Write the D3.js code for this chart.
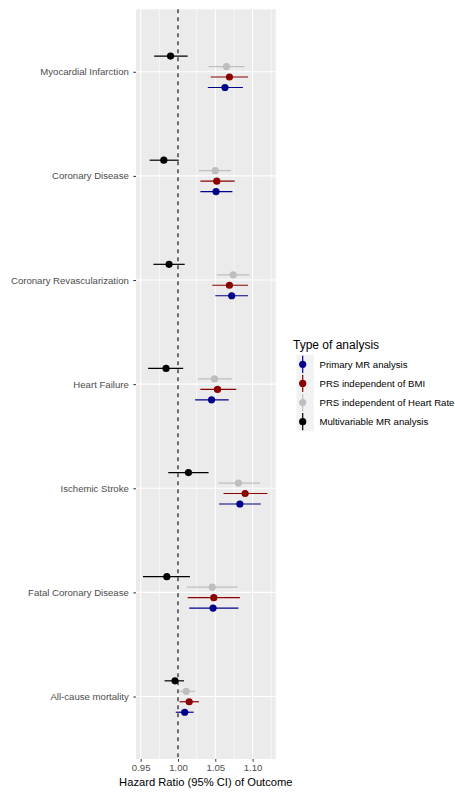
<!DOCTYPE html>
<html>
<head>
<meta charset="utf-8">
<script src="https://cdn.jsdelivr.net/npm/d3@7"></script>
<style>
  body { margin: 0; background: #fff; }
  text { font-family: "Liberation Sans", Arial, sans-serif; }
</style>
</head>
<body>
<div id="chart"></div>
<script>
// outcome categories, top to bottom
var outcomes = ["Myocardial Infarction", "Coronary Disease", "Coronary Revascularization",
  "Heart Failure", "Ischemic Stroke", "Fatal Coronary Disease", "All-cause mortality"];

// analyses, in dodge order (top to bottom inside a category)
var analyses = ["Multivariable MR analysis", "PRS independent of Heart Rate",
  "PRS independent of BMI", "Primary MR analysis"];
var colors = ["#000000", "#BEBEBE", "#8B0000", "#00008B"];

// legend order
var legendOrder = ["Primary MR analysis", "PRS independent of BMI",
  "PRS independent of Heart Rate", "Multivariable MR analysis"];

// hazard ratios [est, lower, upper] per outcome, one array per analysis
var multivariable = [[0.990, 0.968, 1.013], [0.981, 0.962, 1.001], [0.988, 0.967, 1.009],
  [0.984, 0.960, 1.007], [1.014, 0.987, 1.041], [0.985, 0.953, 1.016], [0.996, 0.982, 1.008]];
var prsHeartRate = [[1.065, 1.041, 1.089], [1.050, 1.028, 1.071], [1.074, 1.052, 1.096],
  [1.049, 1.027, 1.072], [1.081, 1.054, 1.110], [1.046, 1.012, 1.080], [1.011, 1.002, 1.023]];
var prsBmi = [[1.069, 1.044, 1.094], [1.052, 1.030, 1.076], [1.069, 1.046, 1.094],
  [1.053, 1.030, 1.078], [1.090, 1.061, 1.120], [1.048, 1.013, 1.083], [1.015, 1.002, 1.028]];
var primary = [[1.063, 1.040, 1.087], [1.051, 1.030, 1.073], [1.072, 1.050, 1.094],
  [1.045, 1.023, 1.068], [1.083, 1.055, 1.111], [1.047, 1.015, 1.081], [1.009, 0.997, 1.021]];

var xTicks = [0.95, 1.00, 1.05, 1.10];
var xMinor = [0.925, 0.975, 1.025, 1.075, 1.125];

var W = 455, H = 796;
var panel = { l: 136, r: 275.7, t: 9.3, b: 759 };

var seriesValues = [multivariable, prsHeartRate, prsBmi, primary];
var rows = [];
analyses.forEach(function (a, i) {
  seriesValues[i].forEach(function (v, j) {
    rows.push({ outcome: outcomes[j], analysis: a, est: v[0], lo: v[1], hi: v[2], color: colors[i] });
  });
});

var svg = d3.select("#chart").append("svg").attr("width", W).attr("height", H);

var x = d3.scaleLinear().domain([0.9437, 1.131]).range([panel.l, panel.r]);
var y = d3.scalePoint().domain(outcomes).range([panel.t, panel.b]).padding(0.6);
var dodge = d3.scalePoint().domain(analyses).range([-15.7, 15.7]);

svg.append("rect")
  .attr("x", panel.l).attr("y", panel.t)
  .attr("width", panel.r - panel.l).attr("height", panel.b - panel.t)
  .attr("fill", "#EBEBEB");

var grid = svg.append("g");
grid.selectAll(".minor").data(xMinor.filter(function (d) { return x(d) > panel.l && x(d) < panel.r; }))
  .enter().append("line")
  .attr("x1", function (d) { return x(d); }).attr("x2", function (d) { return x(d); })
  .attr("y1", panel.t).attr("y2", panel.b)
  .attr("stroke", "#fff").attr("stroke-width", 0.55);
grid.selectAll(".major").data(xTicks)
  .enter().append("line")
  .attr("x1", function (d) { return x(d); }).attr("x2", function (d) { return x(d); })
  .attr("y1", panel.t).attr("y2", panel.b)
  .attr("stroke", "#fff").attr("stroke-width", 1.1);
grid.selectAll(".hmajor").data(outcomes)
  .enter().append("line")
  .attr("x1", panel.l).attr("x2", panel.r)
  .attr("y1", function (d) { return y(d); }).attr("y2", function (d) { return y(d); })
  .attr("stroke", "#fff").attr("stroke-width", 1.1);

// reference line at HR = 1
svg.append("line")
  .attr("x1", x(1)).attr("x2", x(1))
  .attr("y1", panel.t).attr("y2", panel.b)
  .attr("stroke", "#000").attr("stroke-width", 1.1)
  .attr("stroke-dasharray", "4,4");

var marks = svg.append("g");
marks.selectAll("line").data(rows).enter().append("line")
  .attr("x1", function (d) { return x(d.lo); })
  .attr("x2", function (d) { return x(d.hi); })
  .attr("y1", function (d) { return y(d.outcome) + dodge(d.analysis); })
  .attr("y2", function (d) { return y(d.outcome) + dodge(d.analysis); })
  .attr("stroke", function (d) { return d.color; })
  .attr("stroke-width", 1.2);
marks.selectAll("circle").data(rows).enter().append("circle")
  .attr("cx", function (d) { return x(d.est); })
  .attr("cy", function (d) { return y(d.outcome) + dodge(d.analysis); })
  .attr("r", 3.6)
  .attr("fill", function (d) { return d.color; });

// axes
var xAxis = svg.append("g").attr("transform", "translate(0," + panel.b + ")")
  .call(d3.axisBottom(x).tickValues(xTicks).tickFormat(d3.format(".2f")).tickSize(2.7).tickPadding(2));
var yAxis = svg.append("g").attr("transform", "translate(" + panel.l + ",0)")
  .call(d3.axisLeft(y).tickSize(2.7).tickPadding(4.5));
[xAxis, yAxis].forEach(function (ax) {
  ax.select(".domain").remove();
  ax.selectAll(".tick line").attr("stroke", "#333").attr("stroke-width", 1);
  ax.selectAll("text").attr("fill", "#4D4D4D").attr("font-size", 9.6)
    .attr("font-family", "Liberation Sans, Arial, sans-serif");
});

svg.append("text")
  .attr("x", (panel.l + panel.r) / 2).attr("y", 786)
  .attr("text-anchor", "middle").attr("font-size", 11.2).attr("fill", "#000")
  .text("Hazard Ratio (95% CI) of Outcome");

// legend
var legend = svg.append("g").attr("transform", "translate(293,0)");
legend.append("text").attr("x", 0).attr("y", 349).attr("font-size", 12).attr("fill", "#000")
  .text("Type of analysis");
var ly = d3.scalePoint().domain(legendOrder).range([364.3, 421.7]);
var key = legend.selectAll(".key").data(legendOrder).enter().append("g")
  .attr("transform", function (d) { return "translate(0," + ly(d) + ")"; });
key.append("rect").attr("x", 3.5).attr("y", -9.6).attr("width", 17.3).attr("height", 19.2)
  .attr("fill", "#F2F2F2");
key.append("line").attr("x1", 9.7).attr("x2", 9.7).attr("y1", -8.6).attr("y2", 8.6)
  .attr("stroke", function (d) { return colors[analyses.indexOf(d)]; }).attr("stroke-width", 1.2);
key.append("circle").attr("cx", 9.7).attr("cy", 0).attr("r", 3.6)
  .attr("fill", function (d) { return colors[analyses.indexOf(d)]; });
key.append("text").attr("x", 26.5).attr("y", 3.4).attr("font-size", 9.6).attr("fill", "#000")
  .text(function (d) { return d; });
</script>
</body>
</html>
